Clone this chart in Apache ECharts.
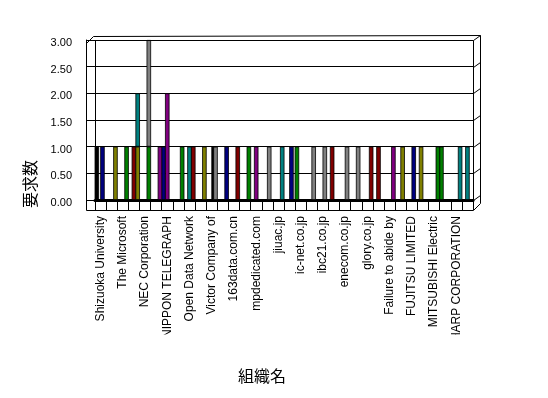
<!DOCTYPE html>
<html><head><meta charset="utf-8">
<script src="https://cdn.jsdelivr.net/npm/echarts@6/dist/echarts.min.js"></script>
<style>html,body{margin:0;padding:0;background:#fff}#c{width:548px;height:398px}</style>
</head><body><div id="c"></div>
<script>
// 34 organisations; only every other name is printed on the axis (the others are unreadable in the source)
const categories = [
  "Shizuoka University","", "The Microsoft","", "NEC Corporation","", "NIPPON TELEGRAPH","",
  "Open Data Network","", "Victor Company of","", "163data.com.cn","", "mpdedicated.com","",
  "jiuac.jp","", "ic-net.co.jp","", "ibc21.co.jp","", "enecom.co.jp","", "glory.co.jp","",
  "Failure to abide by","", "FUJITSU LIMITED","", "MITSUBISHI Electric","", "SHARP CORPORATION",""
];
const yTicks = [0, 0.5, 1, 1.5, 2, 2.5, 3];
const yTitle = "要求数";
const xTitle = "組織名";

// values per depth row (null = no bar)
const rowA = [1,null,null,null,null,null,1,null,null,null,null,null,null,null,null,null,null,null,1,null,null,null,null,null,null,null,null,null,null,null,null,1,null,null];
const rowB = [null,null,null,null,null,null,null,null,null,null,null,null,null,null,null,null,null,null,null,null,null,1,null,null,null,null,null,null,null,1,null,null,null,null];
const rowC = [null,null,null,1,null,null,2,null,1,null,null,null,null,null,1,null,null,null,null,null,null,null,null,null,null,1,null,null,null,null,null,null,null,1];
const rowD = [1,null,null,null,null,null,null,null,null,null,1,null,null,null,null,1,null,1,null,1,1,null,1,1,null,null,null,1,1,null,null,null,null,null];
const rowE = [null,1,1,1,1,1,null,1,1,1,1,1,1,1,null,null,1,null,null,null,null,null,null,null,1,null,1,null,null,null,1,null,1,null];
const rowETop = [null,null,null,1,2,null,null,null,null,null,null,null,null,null,null,null,null,null,null,null,null,null,null,null,null,null,null,null,null,null,null,null,null,null];

// colour name of each bar (index -> colour)
const rowAColors = {0:"black",6:"navy",18:"green",31:"green"};
const rowBColors = {21:"darkred",29:"olive"};
const rowCColors = {3:"darkred",6:"purple",8:"teal",14:"purple",25:"darkred",33:"teal"};
const rowDColors = {0:"navy",10:"black",15:"gray",17:"navy",19:"gray",20:"gray",22:"gray",23:"gray",27:"olive",28:"navy"};
const rowEColors = {1:"olive",2:"green",3:"olive",4:"green",5:"purple",7:"green",8:"darkred",9:"olive",10:"gray",11:"navy",12:"darkred",13:"green",16:"teal",24:"darkred",26:"purple",30:"green",32:"teal"};
const rowETopColors = {3:"teal",4:"gray"};

const palette = {black:"#000000",navy:"#000080",olive:"#808000",green:"#008000",darkred:"#800000",teal:"#008080",gray:"#808080",purple:"#800080"};

function toData(vals, cols){
  return vals.map((v,i)=> v==null ? '-' : {value:v, itemStyle:{color:palette[cols[i]]}});
}
const barStyle = {borderColor:'#000', borderWidth:0.8};
function mk(name, vals, cols, stack){
  const s = {name, type:'bar', data:toData(vals, cols), barWidth:4.5, barGap:'-58%', itemStyle:barStyle, animation:false};
  if (stack) s.stack = stack;
  return s;
}

const chart = echarts.init(document.getElementById('c'), null, {renderer:'canvas'});
const FONT = 'Liberation Sans, Arial, sans-serif';
chart.setOption({
  animation:false,
  backgroundColor:'#fff',
  grid:{left:95, right:75, top:40, bottom:198, show:false},
  xAxis:{type:'category', data:categories, boundaryGap:true,
    axisLine:{show:true, lineStyle:{color:'#000', width:3}},
    axisTick:{show:true, interval:0, length:10, lineStyle:{color:'#000', width:1}},
    axisLabel:{interval:1, rotate:90, margin:16, fontSize:12, color:'#000', fontFamily:FONT},
    splitLine:{show:false}},
  yAxis:{type:'value', min:yTicks[0], max:yTicks[yTicks.length-1], interval:yTicks[1]-yTicks[0], offset:9,
    axisLine:{show:true, lineStyle:{color:'#000'}},
    axisTick:{show:true, inside:true, length:9, lineStyle:{color:'#000'}},
    axisLabel:{margin:14, color:'#000', formatter:v=>'{t|'+v.toFixed(2)+'}',
      rich:{t:{fontSize:11, color:'#000', fontFamily:FONT, padding:[6,0,0,0]}}},
    splitLine:{show:true, lineStyle:{color:'#000', width:1}}},
  series:[
    mk('A', rowA, rowAColors),
    mk('B', rowB, rowBColors),
    mk('C', rowC, rowCColors),
    mk('D', rowD, rowDColors),
    mk('E', rowE, rowEColors, 'e'),
    mk('E2', rowETop, rowETopColors, 'e')
  ]
});

// 3-D frame decorations derived from the axes
const c0 = chart.convertToPixel({xAxisIndex:0}, 0);
const c1 = chart.convertToPixel({xAxisIndex:0}, 1);
const band = c1 - c0;
const px = v => Math.round(v) + 0.5;
const L = px(c0 - band/2);
const R = px(chart.convertToPixel({xAxisIndex:0}, categories.length-1) + band/2);
const T = px(chart.convertToPixel({yAxisIndex:0}, yTicks[yTicks.length-1]));
const B = px(chart.convertToPixel({yAxisIndex:0}, yTicks[0]));
const dx = 7, dy = 5;
const ln = {stroke:'#000', lineWidth:1, fill:null};
const g = [];
g.push({type:'polyline', shape:{points:[[L,B],[L,T],[R,T],[R,B]]}, style:ln, z:50});
g.push({type:'polyline', shape:{points:[[L-9,T+3],[L-2,T-4],[R+dx,T-dy],[R+dx,B+3],[R,B+10]]}, style:ln, z:50});
g.push({type:'polyline', shape:{points:[[L-9,T+3],[L-9,B+10],[R,B+10]]}, style:ln, z:50});
yTicks.forEach(v=>{
  const y = px(chart.convertToPixel({yAxisIndex:0}, v));
  g.push({type:'line', shape:{x1:R,y1:y,x2:R+dx,y2:y-dy}, style:ln, z:50});
});
g.push({type:'rect', shape:{x:L-20, y:B+134, width:R-L+50, height:16}, style:{fill:'#fff'}, z:100});
g.push({type:'text', x:30, y:184, rotation:Math.PI/2, style:{text:yTitle, font:'16px "Noto Sans CJK JP"', textAlign:'center', textVerticalAlign:'middle', fill:'#000'}, z:60});
g.push({type:'text', x:262, y:376, style:{text:xTitle, font:'16px "Noto Sans CJK JP"', textAlign:'center', textVerticalAlign:'middle', fill:'#000'}, z:60});
chart.setOption({graphic:g});
</script></body></html>
